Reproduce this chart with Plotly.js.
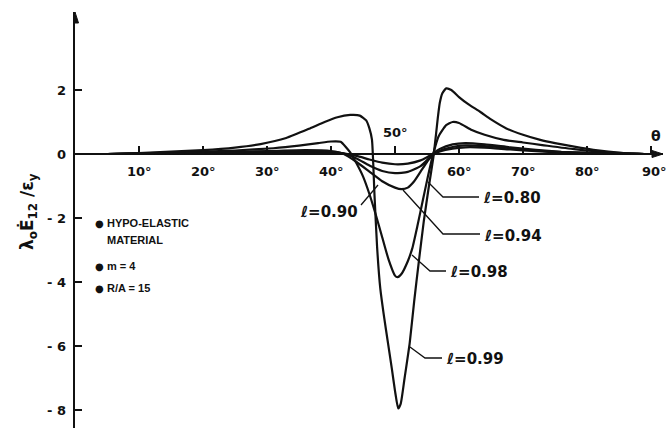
<!DOCTYPE html>
<html><head><meta charset="utf-8">
<script src="https://cdn.plot.ly/plotly-3.0.1.min.js"></script>
<style>html,body{margin:0;padding:0;background:#fff;} #chart{width:667px;height:428px;}</style>
</head><body><div id="chart"></div>
<script>
// ---- data ----
const thetaL80 = [5,10,20,30,36,40,42,44,46,48,50,52,54,55.5,57,59,61,64,68,72,76,80,85,89];
const valueL80 = [0,0.01,0.03,0.05,0.06,0.05,0.02,-0.06,-0.17,-0.27,-0.32,-0.3,-0.2,-0.05,0.08,0.17,0.21,0.2,0.14,0.09,0.05,0.03,0.01,0];

const thetaL90 = [5,10,20,30,36,40,42,44,46,48,50,52,54,55.5,57,59,61,64,68,72,76,80,85,89];
const valueL90 = [0,0.01,0.04,0.07,0.09,0.07,0.01,-0.14,-0.36,-0.53,-0.6,-0.56,-0.38,-0.1,0.1,0.22,0.27,0.25,0.18,0.11,0.06,0.03,0.01,0];

const thetaL94 = [5,10,20,30,36,40,42,44,46,48,50,51,52,53,54,55,56,57,59,61,64,68,72,76,80,85,89];
const valueL94 = [0,0.01,0.05,0.09,0.12,0.09,0.0,-0.25,-0.55,-0.85,-1.05,-1.1,-1.05,-0.85,-0.55,-0.25,0.02,0.16,0.3,0.34,0.3,0.21,0.13,0.07,0.04,0.01,0];

const thetaL98 = [5,10,20,25,31,35,38,40,41.5,43,44,45,46,47,48,49,50,50.4,51,52,52.7,53.5,54.4,55.2,55.9,56.8,58,59,60,62,64,67,70,73,78,84,89];
const valueL98 = [0,0.02,0.07,0.11,0.18,0.26,0.34,0.39,0.38,0.05,-0.3,-0.7,-1.25,-1.9,-2.6,-3.3,-3.8,-3.85,-3.75,-3.35,-2.95,-2.25,-1.4,-0.65,-0.05,0.55,0.9,1.0,0.97,0.75,0.6,0.44,0.36,0.28,0.15,0.04,0];

const thetaL99 = [5,10,20,25,29,33,36.7,39,41,43,44.5,45.5,46,46.4,46.8,47.2,47.7,48.3,48.9,49.5,50,50.5,50.9,51.5,52.3,53,53.7,54.5,55.3,56,56.4,56.7,57,57.4,58,58.8,60,61.5,63.3,65,67.4,70,72.7,75,78,81,85.7,89];
const valueL99 = [0,0.03,0.12,0.2,0.31,0.5,0.8,1.0,1.15,1.22,1.2,1.05,0.8,0.45,-1.3,-2.9,-4.2,-5.1,-5.9,-6.7,-7.4,-7.95,-7.8,-7.0,-5.9,-4.6,-3.4,-2.1,-1.0,-0.1,0.6,1.15,1.6,1.9,2.05,2.0,1.78,1.55,1.32,1.08,0.8,0.6,0.44,0.34,0.23,0.13,0.03,0];

const curveLabels = ['ℓ=0.80','ℓ=0.90','ℓ=0.94','ℓ=0.98','ℓ=0.99'];
const xTickVals = [10,20,30,40,50,60,70,80,90];
const xTickText = ['10°','20°','30°','40°','50°','60°','70°','80°','90°'];
const yTickVals = [2,0,-2,-4,-6,-8];
const yTickText = ['2','0','- 2','- 4','- 6','- 8'];
const noteBullets = [true, false, true, true];
const noteLines = ['HYPO-ELASTIC','MATERIAL','m = 4','R/A = 15'];
const xAxisSymbol = 'θ';
const yAxisTitle = 'λ<sub>o</sub>Ė<sub>12</sub> /ε<sub>y</sub>';

// ---- layout geometry ----
const W = 667, H = 428, M = {l:75, r:4, t:12, b:0};
const X_RANGE = [0, 91.875], Y_RANGE = [-8.5625, 4.4375];
const PW = W - M.l - M.r, PH = H - M.t - M.b;
const dx = px => X_RANGE[0] + (px - M.l) / PW * (X_RANGE[1] - X_RANGE[0]);
const dy = py => Y_RANGE[1] - (py - M.t) / PH * (Y_RANGE[1] - Y_RANGE[0]);
const pX = px => (px - M.l) / PW;
const pY = py => (H - M.b - py) / PH;

const series = [
  [thetaL80, valueL80], [thetaL90, valueL90], [thetaL94, valueL94],
  [thetaL98, valueL98], [thetaL99, valueL99]
];
const traces = series.map((s, i) => ({
  type: 'scatter', mode: 'lines', x: s[0], y: s[1], name: curveLabels[i],
  line: {color: '#111', width: 2.2, shape: 'spline', smoothing: 0.5},
  hoverinfo: 'skip'
}));

const tickFont = {family: 'DejaVu Sans, Liberation Sans, sans-serif', size: 13, color: '#111', weight: 'bold'};
const labelFont = {family: 'DejaVu Sans, sans-serif', size: 15, color: '#111', weight: 'bold'};
const noteFont = {family: 'Liberation Sans, Arial, sans-serif', size: 11, color: '#111', weight: 'bold'};

const annotations = [];
// x tick labels
xTickVals.forEach((v, i) => {
  const above = (v === 50);
  annotations.push({x: v, y: 0, xref: 'x', yref: 'y', text: xTickText[i], showarrow: false,
    xanchor: 'center', yanchor: 'middle', yshift: above ? 22 : -17, xshift: (v === 90 ? 3 : 0), font: tickFont});
});
// y tick labels
yTickVals.forEach((v, i) => {
  annotations.push({x: 0, y: v, xref: 'x', yref: 'y', text: yTickText[i], showarrow: false,
    xanchor: 'right', yanchor: 'middle', xshift: -7, font: tickFont});
});
annotations.push({x: dx(656), y: 0, xref: 'x', yref: 'y', text: xAxisSymbol, showarrow: false,
  yanchor: 'middle', yshift: 18, font: {family: 'DejaVu Sans, sans-serif', size: 14, color: '#111', weight: 'bold'}});
// y axis title
annotations.push({x: pX(28), y: pY(212), xref: 'paper', yref: 'paper', text: yAxisTitle, textangle: -90,
  showarrow: false, xanchor: 'center', yanchor: 'middle',
  font: {family: 'DejaVu Sans, sans-serif', size: 17, color: '#111', weight: 'bold'}});
// notes
const notePos = [[105, 223], [105, 240], [105, 266], [105, 288]];
noteLines.forEach((t, i) => {
  annotations.push({x: pX(notePos[i][0]), y: pY(notePos[i][1]), xref: 'paper', yref: 'paper', text: t,
    showarrow: false, xanchor: 'left', yanchor: 'middle', font: noteFont});
  if (noteBullets[i]) {
    annotations.push({x: pX(99), y: pY(notePos[i][1]), xref: 'paper', yref: 'paper', text: '●',
      showarrow: false, xanchor: 'center', yanchor: 'middle',
      font: {family: 'DejaVu Sans, sans-serif', size: 10, color: '#111'}});
  }
});
// curve labels
const labelPos = [[481, 198], [298, 212], [482, 236], [448, 272], [444, 359]];
curveLabels.forEach((t, i) => {
  annotations.push({x: pX(labelPos[i][0]), y: pY(labelPos[i][1]), xref: 'paper', yref: 'paper', text: t,
    showarrow: false, xanchor: 'left', yanchor: 'middle', font: labelFont});
});

// leader lines (pixel positions converted into the axes' data space)
const leaders = [
  [[428, 182], [443, 197], [479, 197]],
  [[361, 205], [378, 185]],
  [[403, 190], [443, 234], [480, 234]],
  [[412, 255], [430, 271], [446, 271]],
  [[410, 347], [425, 358], [442, 358]]
];
const shapes = leaders.map(pts => ({
  type: 'path', xref: 'x', yref: 'y',
  path: pts.map((p, j) => (j ? 'L' : 'M') + dx(p[0]).toFixed(3) + ',' + dy(p[1]).toFixed(3)).join(' '),
  line: {color: '#111', width: 1.3}
}));
// axis arrowheads (pixel-sized triangles anchored at the axis ends)
shapes.push({type: 'path', xref: 'x', yref: 'y', xsizemode: 'pixel', ysizemode: 'pixel',
  xanchor: 0, yanchor: Y_RANGE[1], path: 'M -3.5,-11 L 0,0 L 3.5,-11 Z',
  fillcolor: '#111', line: {color: '#111', width: 1}});
shapes.push({type: 'path', xref: 'x', yref: 'y', xsizemode: 'pixel', ysizemode: 'pixel',
  xanchor: X_RANGE[1], yanchor: 0, path: 'M -11,-3.5 L 0,0 L -11,3.5 Z',
  fillcolor: '#111', line: {color: '#111', width: 1}});

const layout = {
  width: W, height: H, margin: M, paper_bgcolor: '#fff', plot_bgcolor: '#fff', showlegend: false,
  xaxis: {range: X_RANGE, anchor: 'free', position: (0 - Y_RANGE[0]) / (Y_RANGE[1] - Y_RANGE[0]),
    showgrid: false, zeroline: false, showline: false, ticks: 'inside', ticklen: 8, tickwidth: 1.5,
    tickcolor: '#111', tickvals: xTickVals, showticklabels: false, fixedrange: true},
  yaxis: {range: Y_RANGE, showgrid: false, zeroline: true, zerolinecolor: '#111', zerolinewidth: 2,
    showline: true, linecolor: '#111', linewidth: 2, ticks: 'inside', ticklen: 7, tickwidth: 1.5,
    tickcolor: '#111', tickvals: yTickVals, showticklabels: false, fixedrange: true},
  annotations: annotations, shapes: shapes
};
Plotly.newPlot('chart', traces, layout, {staticPlot: true, displayModeBar: false});
</script></body></html>
